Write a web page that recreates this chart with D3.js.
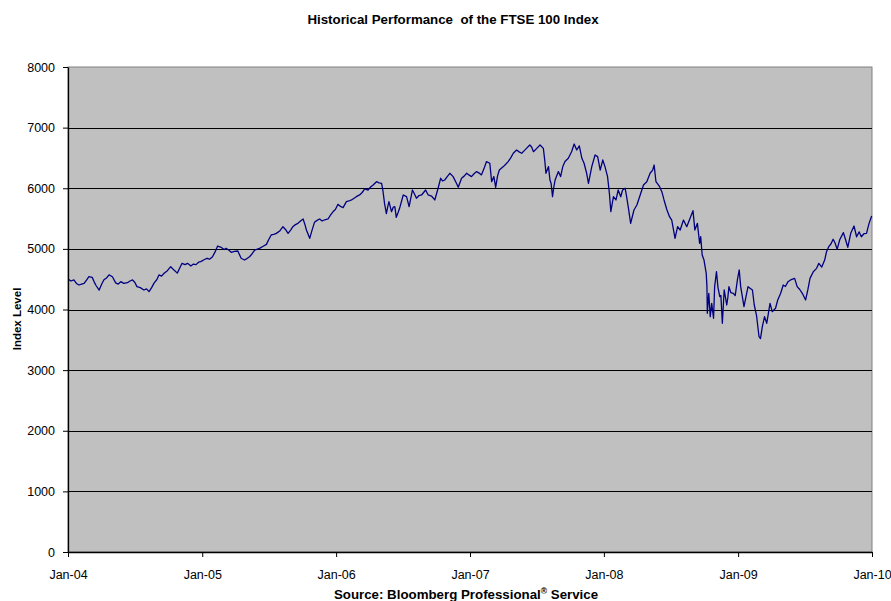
<!DOCTYPE html>
<html>
<head>
<meta charset="utf-8">
<script src="https://cdn.jsdelivr.net/npm/d3@7"></script>
<style>
    body { margin: 0; background: #fff; }
    svg text { font-family: Arial, "Liberation Sans", sans-serif; }
</style>
</head>
<body>
<div id="chart"></div>
<script>

    // FTSE 100 closing levels (roughly weekly).
    var dates = [
        "2004-01-02","2004-01-09","2004-01-17","2004-01-24","2004-01-31","2004-02-07","2004-02-14","2004-02-21","2004-02-27",
        "2004-03-07","2004-03-12","2004-03-17","2004-03-26","2004-04-02","2004-04-08","2004-04-15","2004-04-22","2004-05-01",
        "2004-05-10","2004-05-17","2004-05-24","2004-06-01","2004-06-11","2004-06-18","2004-06-25","2004-07-01","2004-07-07",
        "2004-07-16","2004-07-26","2004-08-02","2004-08-09","2004-08-16","2004-08-23","2004-08-30","2004-09-05","2004-09-12",
        "2004-09-19","2004-09-28","2004-10-07","2004-10-16","2004-10-25","2004-11-01","2004-11-07","2004-11-15","2004-11-22",
        "2004-12-01","2004-12-08","2004-12-15","2004-12-22","2004-12-28",
        "2005-01-06","2005-01-14","2005-01-21","2005-01-29","2005-02-05","2005-02-12","2005-02-20","2005-03-02","2005-03-07",
        "2005-03-14","2005-03-21","2005-03-30","2005-04-08","2005-04-17","2005-04-26","2005-05-03","2005-05-10","2005-05-17",
        "2005-05-24","2005-06-06","2005-06-15","2005-06-25","2005-07-01","2005-07-08","2005-07-15","2005-07-22","2005-08-01",
        "2005-08-09","2005-08-16","2005-08-23","2005-08-30","2005-09-05","2005-09-12","2005-09-19","2005-09-26","2005-10-03",
        "2005-10-08","2005-10-12","2005-10-21","2005-10-27","2005-11-03","2005-11-10","2005-11-17","2005-11-24","2005-12-01",
        "2005-12-10","2005-12-17","2005-12-24","2005-12-30",
        "2006-01-06","2006-01-13","2006-01-20","2006-01-29","2006-02-05","2006-02-12","2006-02-20","2006-02-25","2006-03-06",
        "2006-03-13","2006-03-20","2006-03-29","2006-04-05","2006-04-12","2006-04-21","2006-04-28","2006-05-05","2006-05-09",
        "2006-05-13","2006-05-18","2006-05-22","2006-05-25","2006-06-01","2006-06-06","2006-06-10","2006-06-14","2006-06-19",
        "2006-06-23","2006-07-03","2006-07-12","2006-07-19","2006-07-28","2006-08-03","2006-08-08","2006-08-15","2006-08-22",
        "2006-09-02","2006-09-09","2006-09-18","2006-09-27","2006-10-06","2006-10-13","2006-10-18","2006-10-24","2006-11-01",
        "2006-11-07","2006-11-16","2006-11-25","2006-11-30","2006-12-09","2006-12-16","2006-12-23","2006-12-29",
        "2007-01-05","2007-01-12","2007-01-19","2007-01-26","2007-02-01","2007-02-08","2007-02-15","2007-02-24","2007-03-01",
        "2007-03-07","2007-03-12","2007-03-17","2007-03-22","2007-04-02","2007-04-09","2007-04-15","2007-04-22","2007-04-29",
        "2007-05-08","2007-05-15","2007-05-22","2007-05-29","2007-06-04","2007-06-13","2007-06-18","2007-06-23","2007-07-02",
        "2007-07-11","2007-07-20","2007-07-24","2007-07-27","2007-08-03","2007-08-07","2007-08-10","2007-08-14","2007-08-17",
        "2007-08-21","2007-08-30","2007-09-05","2007-09-11","2007-09-17","2007-09-26","2007-10-05","2007-10-12","2007-10-19",
        "2007-10-26","2007-11-02","2007-11-08","2007-11-15","2007-11-20","2007-11-29","2007-12-08","2007-12-15","2007-12-22",
        "2007-12-29",
        "2008-01-04","2008-01-11","2008-01-16","2008-01-20","2008-01-27","2008-02-03","2008-02-09","2008-02-16","2008-02-21",
        "2008-02-28","2008-03-03","2008-03-08","2008-03-14","2008-03-23","2008-03-31","2008-04-09","2008-04-18","2008-04-27",
        "2008-05-06","2008-05-13","2008-05-17","2008-05-22","2008-06-01","2008-06-07","2008-06-13","2008-06-21","2008-06-28",
        "2008-07-04","2008-07-13","2008-07-20","2008-07-27","2008-08-05","2008-08-14","2008-08-23","2008-08-31","2008-09-05",
        "2008-09-12","2008-09-18","2008-09-21","2008-09-25","2008-09-30","2008-10-06","2008-10-08","2008-10-09","2008-10-13",
        "2008-10-17","2008-10-21","2008-10-26","2008-10-29","2008-11-03","2008-11-07","2008-11-12","2008-11-15","2008-11-19",
        "2008-11-24","2008-12-01","2008-12-04","2008-12-07","2008-12-12","2008-12-19","2008-12-24","2008-12-30",
        "2009-01-04","2009-01-08","2009-01-17","2009-01-28","2009-02-09","2009-02-14","2009-02-20","2009-02-27","2009-03-03",
        "2009-03-08","2009-03-14","2009-03-20","2009-03-29","2009-04-04","2009-04-13","2009-04-19","2009-04-27","2009-05-04",
        "2009-05-10","2009-05-17","2009-05-24","2009-06-04","2009-06-11","2009-06-18","2009-06-25","2009-07-04","2009-07-10",
        "2009-07-16","2009-07-25","2009-08-03","2009-08-09","2009-08-17","2009-08-25","2009-08-30","2009-09-05","2009-09-11",
        "2009-09-17","2009-09-22","2009-09-28","2009-10-05","2009-10-15","2009-10-21","2009-10-27","2009-11-04","2009-11-13",
        "2009-11-20","2009-11-27","2009-12-03","2009-12-10","2009-12-17","2009-12-24","2009-12-31"
    ];

    var levels = [
        4500,4470,4490,4430,4404,4420,4430,4490,4541,
        4530,4460,4400,4320,4420,4490,4520,4570,4541,
        4440,4420,4459,4430,4442,4470,4487,4450,4377,
        4360,4322,4340,4295,4360,4440,4490,4570,4550,
        4597,4640,4706,4650,4600,4690,4762,4740,4762,
        4718,4750,4740,4780,4790,
        4820,4845,4830,4871,4950,5047,5030,4990,5009,
        4980,4943,4960,4965,4845,4816,4840,4870,4920,
        4981,5009,5040,5074,5150,5229,5240,5256,5300,
        5366,5320,5256,5310,5366,5400,5421,5460,5493,
        5400,5311,5174,5300,5438,5470,5493,5460,5480,
        5493,5560,5615,5650,
        5735,5700,5680,5780,5790,5807,5840,5861,5890,
        5930,5988,5971,6020,6054,6108,6090,6080,5943,
        5750,5580,5700,5780,5614,5690,5697,5520,5600,
        5669,5889,5861,5697,5971,5900,5835,5880,5889,
        5971,5889,5872,5807,6000,6165,6120,6136,6200,
        6247,6192,6082,6016,6165,6200,6247,6220,
        6192,6240,6275,6250,6220,6320,6440,6412,6108,
        6192,6016,6200,6300,6357,6400,6440,6500,6577,
        6631,6600,6577,6620,6658,6713,6680,6603,6658,
        6713,6658,6450,6247,6357,6136,6082,5861,6000,
        6136,6275,6192,6357,6440,6494,6603,6730,6631,
        6700,6494,6412,6247,6082,6357,6549,6521,6300,
        6466,
        6357,6192,5917,5615,5860,5807,5971,5860,5971,
        6000,5861,5669,5421,5641,5724,5889,6054,6108,
        6247,6300,6383,6108,6025,5944,5807,5641,5531,
        5475,5174,5366,5311,5475,5366,5504,5630,5311,
        5421,5092,5201,4899,4816,4597,4377,3937,4267,
        3882,4100,3855,4377,4624,4365,4212,4233,3772,
        4322,4074,4200,4377,4280,4267,4230,4487,
        4652,4377,4047,4377,4322,4074,3909,3551,3520,
        3716,3882,3772,4102,3964,4020,4157,4267,4404,
        4380,4459,4487,4514,4377,4330,4267,4157,4322,
        4514,4624,4679,4762,4700,4816,4954,5036,5080,
        5158,5100,4993,5150,5268,5150,5026,5256,5377,
        5200,5280,5200,5250,5256,5421,5542
    ];

    var yTicks = [0, 1000, 2000, 3000, 4000, 5000, 6000, 7000, 8000];
    var xTickLabels = ["Jan-04", "Jan-05", "Jan-06", "Jan-07", "Jan-08", "Jan-09", "Jan-10"];

    var parseDate = d3.timeParse("%Y-%m-%d");
    var data = dates.map(function(d, i) {
        return { date: parseDate(d), value: levels[i] };
    });
    var xTickDates = xTickLabels.map(function(l) { return d3.timeParse("%b-%y")(l); });

    var W = 891, H = 601;
    // plot area edges (window.top is read-only, so no bare "top")
    var plotL = 68, plotR = 872, plotT = 67, plotB = 552;

    var svg = d3.select("#chart")
        .append("svg")
        .attr("width", W)
        .attr("height", H);

    var x = d3.scaleTime()
        .domain([xTickDates[0], xTickDates[xTickDates.length - 1]])
        .range([plotL, plotR]);

    var y = d3.scaleLinear()
        .domain([0, 8000])
        .range([plotB, plotT]);

    // Plot area (grey fill, grey border)
    svg.append("rect")
        .attr("x", plotL)
        .attr("y", plotT)
        .attr("width", plotR - plotL)
        .attr("height", plotB - plotT)
        .attr("fill", "#c0c0c0")
        .attr("stroke", "#808080")
        .attr("stroke-width", 1);

    // Gridlines
    svg.append("g")
        .selectAll("line")
        .data(yTicks.filter(function(d) { return d > 0 && d < 8000; }))
        .enter()
        .append("line")
            .attr("x1", plotL)
            .attr("x2", plotR)
            .attr("y1", function(d) { return Math.round(y(d)) + 0.5; })
            .attr("y2", function(d) { return Math.round(y(d)) + 0.5; })
            .attr("stroke", "#000")
            .attr("stroke-width", 1);

    // Index line
    var line = d3.line()
        .x(function(d) { return x(d.date); })
        .y(function(d) { return y(d.value); });

    svg.append("path")
        .datum(data)
        .attr("d", line)
        .attr("fill", "none")
        .attr("stroke", "#000080")
        .attr("stroke-width", 1.3)
        .attr("stroke-linejoin", "round");

    // Axes
    svg.append("g")
        .attr("transform", "translate(" + plotL + ",0)")
        .call(d3.axisLeft(y)
            .tickValues(yTicks)
            .tickSize(5)
            .tickPadding(8)
            .tickSizeOuter(0)
            .tickFormat(d3.format("d")));

    svg.append("g")
        .attr("transform", "translate(0," + plotB + ")")
        .call(d3.axisBottom(x)
            .tickValues(xTickDates)
            .tickSize(5)
            .tickPadding(13)
            .tickSizeOuter(0)
            .tickFormat(function(d, i) { return xTickLabels[i]; }));

    svg.selectAll(".domain").attr("stroke", "#000").attr("stroke-width", 1.3);
    svg.selectAll(".tick line").attr("stroke", "#000");
    svg.selectAll(".tick text")
        .attr("fill", "#000")
        .style("font-size", "12.5px")
        .style("font-family", "Arial, 'Liberation Sans', sans-serif");

    // Titles
    svg.append("text")
        .attr("x", 453)
        .attr("y", 24)
        .attr("text-anchor", "middle")
        .style("font-size", "13.3px")
        .style("font-weight", "bold")
        .style("white-space", "pre")
        .text("Historical Performance  of the FTSE 100 Index");

    svg.append("text")
        .attr("transform", "translate(21,319) rotate(-90)")
        .attr("text-anchor", "middle")
        .style("font-size", "11.5px")
        .style("font-weight", "bold")
        .text("Index Level");

    var src = svg.append("text")
        .attr("x", 466)
        .attr("y", 599)
        .attr("text-anchor", "middle")
        .style("font-size", "13.3px")
        .style("font-weight", "bold");
    src.append("tspan").text("Source: Bloomberg Professional");
    src.append("tspan").attr("dy", -5).style("font-size", "8.5px").text("®");
    src.append("tspan").attr("dy", 5).text(" Service");

</script>
</body>
</html>
